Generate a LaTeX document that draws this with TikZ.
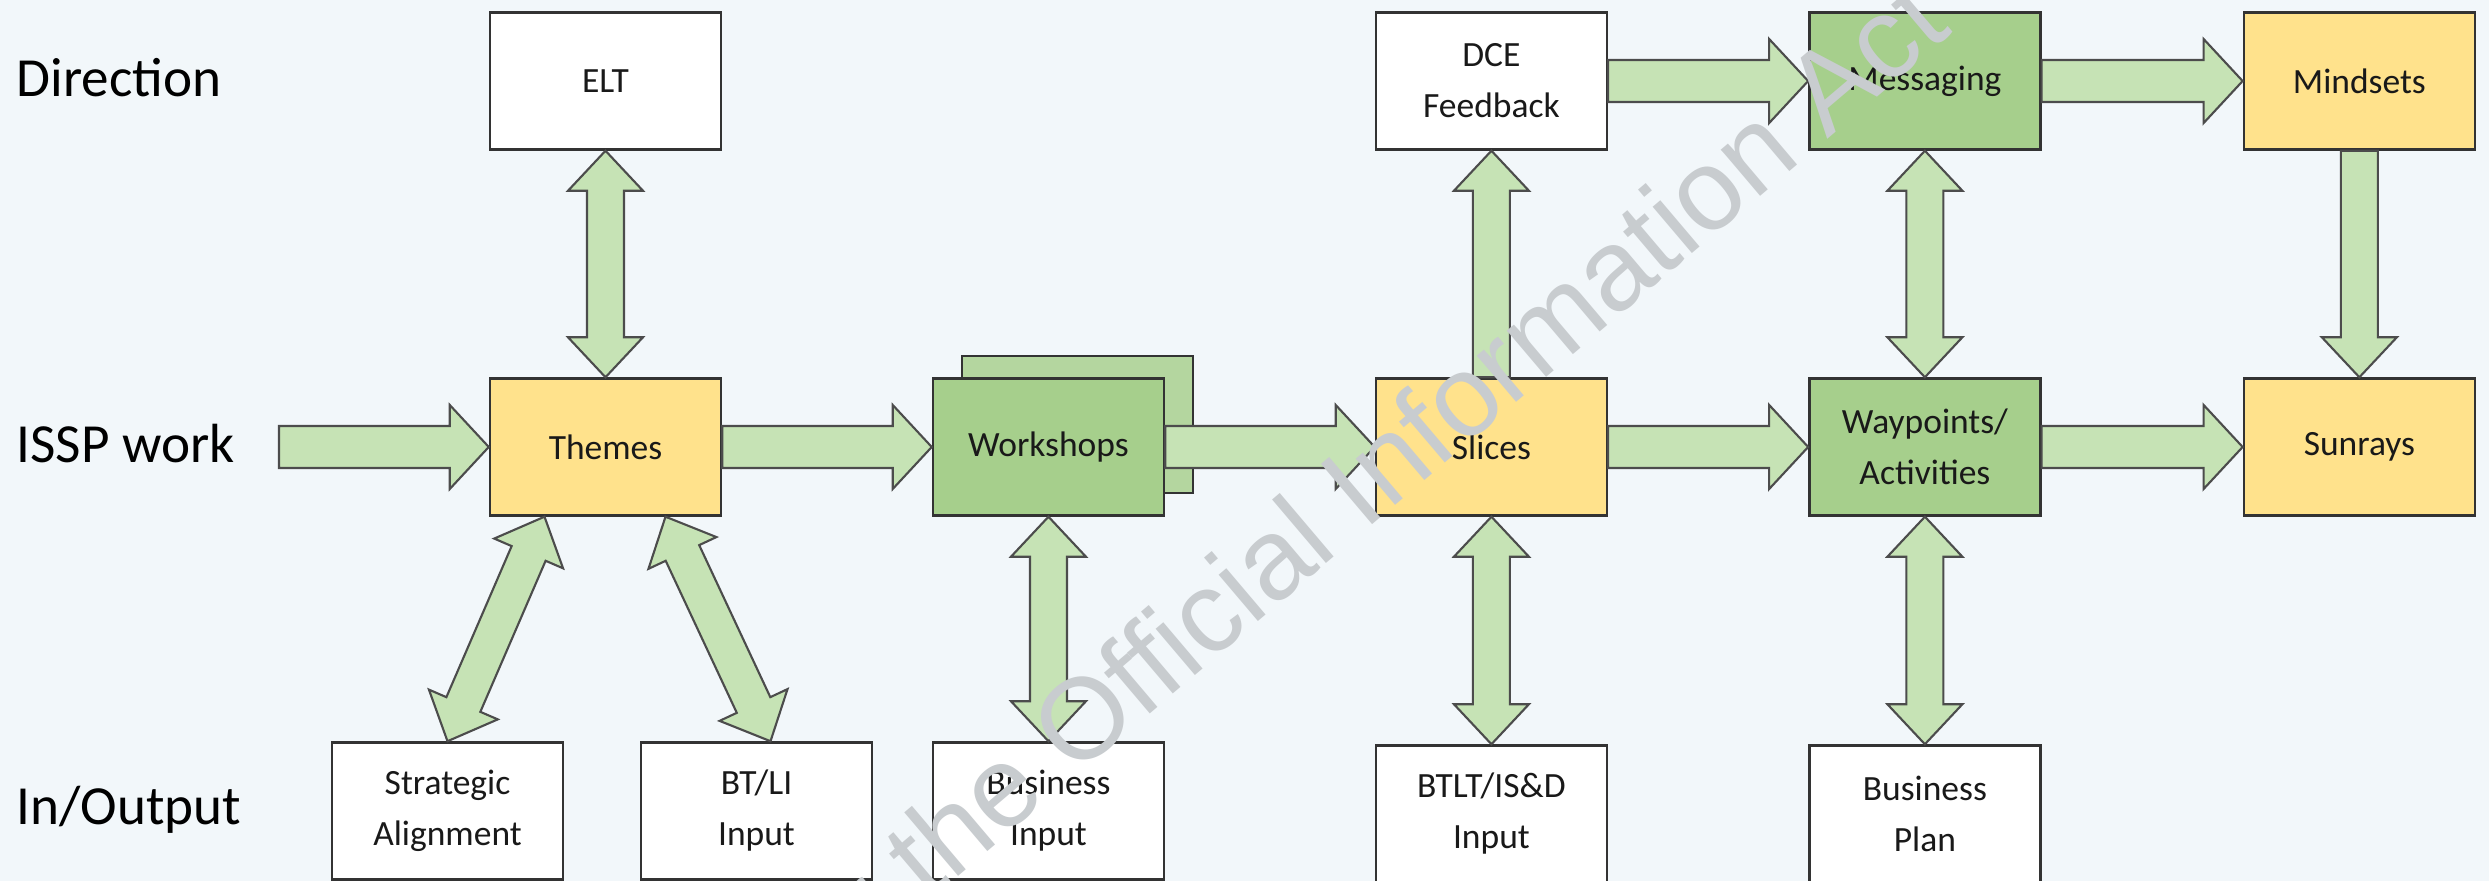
\documentclass[tikz,border=0pt]{standalone}
\usepackage{fontspec}
\setmainfont{Carlito}
\newfontfamily\markfont{Liberation Sans}
\usetikzlibrary{positioning,calc}

\definecolor{pagefill}{HTML}{F2F7FA}
\definecolor{sunfill}{HTML}{FFE28C}
\definecolor{leaffill}{HTML}{A6CF8C}
\definecolor{stackfill}{HTML}{B4D69F}
\definecolor{shaftfill}{HTML}{C6E3B5}
\definecolor{markgray}{HTML}{C8CCCF}

% block arrows: #1 half shaft, #2 half head, #3 head length
\tikzset{
  fat/.style={draw=black!70, line width=0.6pt, fill=shaftfill},
  oneway/.style n args={3}{fat, to path={
    ($(\tikztostart)!#1!90:(\tikztotarget)$) --
    ($(\tikztotarget)!#3!(\tikztostart)!#1!90:(\tikztotarget)$) --
    ($(\tikztotarget)!#3!(\tikztostart)!#2!90:(\tikztotarget)$) --
    (\tikztotarget) --
    ($(\tikztotarget)!#3!(\tikztostart)!#2!-90:(\tikztotarget)$) --
    ($(\tikztotarget)!#3!(\tikztostart)!#1!-90:(\tikztotarget)$) --
    ($(\tikztostart)!#1!-90:(\tikztotarget)$) -- cycle}},
  twoway/.style n args={3}{fat, to path={
    (\tikztostart) --
    ($(\tikztostart)!#3!(\tikztotarget)!#2!90:(\tikztotarget)$) --
    ($(\tikztostart)!#3!(\tikztotarget)!#1!90:(\tikztotarget)$) --
    ($(\tikztotarget)!#3!(\tikztostart)!#1!90:(\tikztotarget)$) --
    ($(\tikztotarget)!#3!(\tikztostart)!#2!90:(\tikztotarget)$) --
    (\tikztotarget) --
    ($(\tikztotarget)!#3!(\tikztostart)!#2!-90:(\tikztotarget)$) --
    ($(\tikztotarget)!#3!(\tikztostart)!#1!-90:(\tikztotarget)$) --
    ($(\tikztostart)!#3!(\tikztotarget)!#1!-90:(\tikztotarget)$) --
    ($(\tikztostart)!#3!(\tikztotarget)!#2!-90:(\tikztotarget)$) -- cycle}},
  flow/.style={oneway={2.1mm}{4.2mm}{3.9mm}},
  push/.style={oneway={1.85mm}{3.75mm}{4mm}},
  link/.style={twoway={1.85mm}{3.75mm}{4mm}}
}

\begin{document}
\begin{tikzpicture}
		\tikzstyle{box}=[rectangle, draw=black!80, line width=0.7pt, minimum width=2.31cm, minimum height=1.37cm, inner sep=1pt, align=center, text=black!90, font=\fontsize{10.1}{14.5}\selectfont]
		\tikzstyle{plain}=[box, fill=white]
		\tikzstyle{sunny}=[box, fill=sunfill]
		\tikzstyle{leafy}=[box, fill=leaffill]
		\tikzstyle{stacked}=[box, fill=stackfill]
		\tikzstyle{row}=[anchor=west, inner sep=0pt, font=\fontsize{15.7}{18}\selectfont]
		\fill[pagefill] (0,0) rectangle (24.89,8.81);
		\useasboundingbox (0,0) rectangle (24.89,8.81);
		\node[row] (direction) at (0.16,8.03) {Direction};
		\node[row] (issp) at (0.16,4.37) {ISSP work};
		\node[row] (inout) at (0.16,0.71) {In/Output};
		\node[sunny] (themes) at (6.055,4.34) {Themes};
		\node[plain, above=2.265cm of themes] (elt) {ELT};
		\node[plain, below=2.245cm of themes, xshift=-1.58cm] (strat) {Strategic\\Alignment};
		\node[plain, below=2.245cm of themes, xshift=1.51cm] (btli) {BT/LI\\Input};
		\node[stacked, right=2.095cm of themes, xshift=0.29cm, yshift=0.225cm] (stack) {};
		\node[leafy, right=2.095cm of themes] (workshops) {Workshops};
		\node[plain, below=2.245cm of workshops] (businput) {Business\\Input};
		\node[sunny, right=2.095cm of workshops] (slices) {Slices};
		\node[plain, above=2.265cm of slices] (dce) {DCE\\Feedback};
		\node[plain, below=2.275cm of slices] (btlt) {BTLT/IS\&D\\Input};
		\node[leafy, right=2.0cm of slices] (waypoints) {Waypoints/\\Activities};
		\node[leafy, above=2.265cm of waypoints] (messaging) {Messaging};
		\node[plain, below=2.275cm of waypoints] (busplan) {Business\\Plan};
		\node[sunny, right=2.01cm of waypoints] (sunrays) {Sunrays};
		\node[sunny, above=2.265cm of sunrays] (mindsets) {Mindsets};
		\coordinate (entry) at (2.79,4.34);
		\path (entry) edge[flow] (themes.west)
		(themes.east) edge[flow] (workshops.west)
		(workshops.east) edge[flow] (slices.west)
		(slices.east) edge[flow] (waypoints.west)
		(waypoints.east) edge[flow] (sunrays.west)
		(dce.east) edge[flow] (messaging.west)
		(messaging.east) edge[flow] (mindsets.west)
		(slices.north) edge[push] (dce.south)
		(mindsets.south) edge[push] (sunrays.north)
		(themes.north) edge[link] (elt.south)
		(messaging.south) edge[link] (waypoints.north)
		(workshops.south) edge[link] (businput.north)
		(slices.south) edge[link] (btlt.north)
		(waypoints.south) edge[link] (busplan.north)
		([xshift=-6.1mm]themes.south) edge[link] (strat.north)
		([xshift=6mm]themes.south) edge[link] ([xshift=1.4mm]btli.north);
		\node[rotate=40.3, text=markgray, font=\markfont\fontsize{32.7}{34}\selectfont] (stamp) at (10.93,1.73) {Released under the Official Information Act};
\end{tikzpicture}
\end{document}
